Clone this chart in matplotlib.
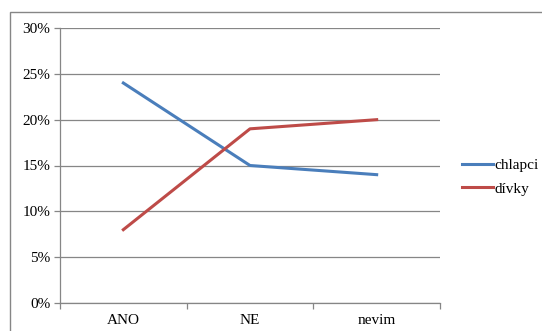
import numpy as np
import matplotlib.pyplot as plt
from matplotlib.patches import Rectangle

# data
categories = ["ANO", "NE", "nevim"]
chlapci = [0.24, 0.15, 0.14]
divky = [0.08, 0.19, 0.20]
yticks = [0.0, 0.05, 0.10, 0.15, 0.20, 0.25, 0.30]

plt.rcParams['font.family'] = ['Liberation Serif', 'DejaVu Serif']

fig = plt.figure(figsize=(5.42, 3.31), dpi=100)
ax = fig.add_axes([60 / 542, 1 - 303 / 331, 380 / 542, 275 / 331])

# outer chart frame
fig.patches.append(Rectangle((10 / 542, -0.1), 1.2, 1 - 12 / 331 + 0.1,
                             transform=fig.transFigure, fill=False,
                             edgecolor="#868686", linewidth=1.0))

x = np.arange(len(categories))
ax.plot(x, chlapci, color="#4A7EBB", linewidth=2.2, label="chlapci")
ax.plot(x, divky, color="#BE4B48", linewidth=2.2, label="dívky")

ax.set_xlim(-0.5, len(categories) - 0.5)
ax.set_ylim(0, 0.30)
ax.set_yticks(yticks)
ax.set_yticklabels([f"{int(round(v * 100))}%" for v in yticks], fontsize=11)
ax.yaxis.grid(True, color="#868686", linewidth=0.9)
ax.set_axisbelow(True)

ax.set_xticks(x)
ax.set_xticklabels(categories, fontsize=11)
ax.tick_params(axis="x", length=0, pad=8)
ax.set_xticks(np.arange(-0.5, len(categories)), minor=True)
ax.tick_params(axis="x", which="minor", length=4, color="#868686", width=0.9)
ax.tick_params(axis="y", length=4, color="#868686", width=0.9, pad=3)

for side in ["top", "right"]:
    ax.spines[side].set_visible(False)
for side in ["left", "bottom"]:
    ax.spines[side].set_color("#868686")
    ax.spines[side].set_linewidth(0.9)

fig.legend(loc="center left", bbox_to_anchor=(462 / 542, 1 - 177 / 331),
           frameon=False, fontsize=11, handlelength=2.0, handletextpad=0.15,
           labelspacing=0.65, borderpad=0, borderaxespad=0)

fig.savefig("out.png", dpi=100)
